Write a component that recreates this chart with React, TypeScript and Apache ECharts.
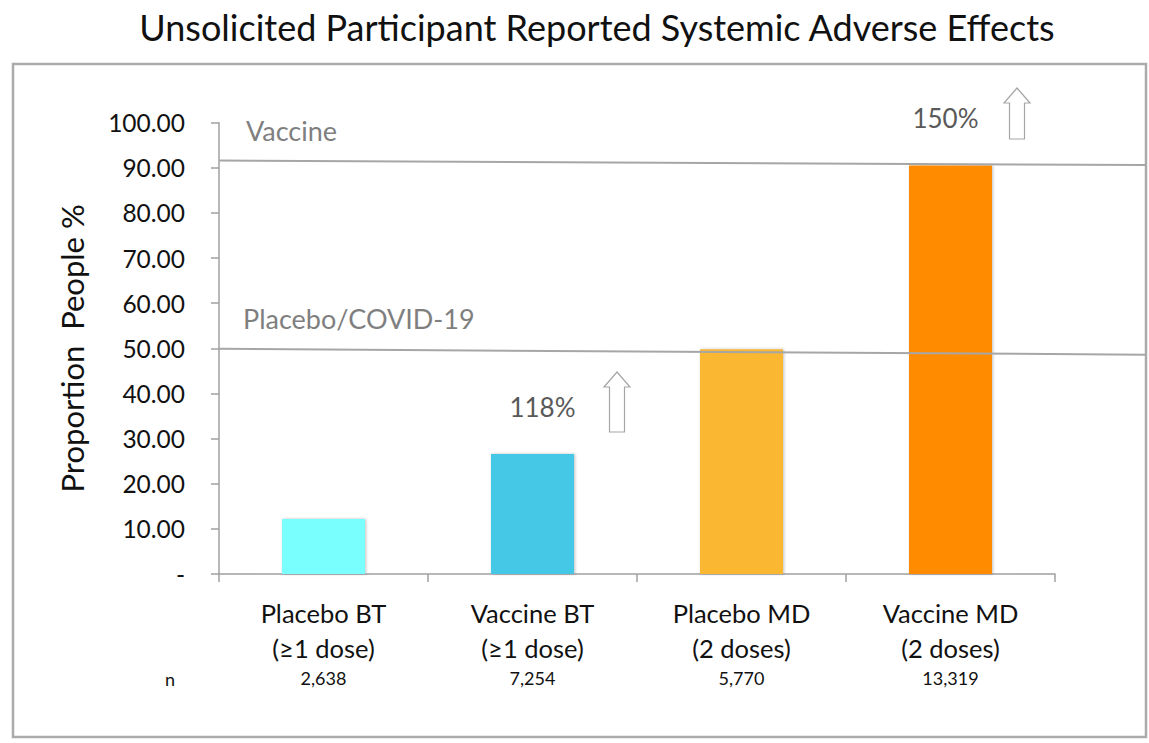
import React, { useEffect, useRef } from "react";
import * as echarts from "echarts";

const categories = ["Placebo BT\n(≥1 dose)", "Vaccine BT\n(≥1 dose)", "Placebo MD\n(2 doses)", "Vaccine MD\n(2 doses)"];
const values = [12.2, 26.6, 49.8, 90.5];
const barColors = ["#7AFFFF", "#44C8E6", "#F9B731", "#FF8C04"];
const nCounts = ["2,638", "7,254", "5,770", "13,319"];
const yTicks = [0, 10, 20, 30, 40, 50, 60, 70, 80, 90, 100];
// reference lines: [label, value at left, value at right]
const refLines = [
  { label: "Vaccine", left: 91.6, right: 90.6 },
  { label: "Placebo/COVID-19", left: 49.9, right: 48.6 },
];
const increases = ["118%", "150%"];

const FONT = "Lato, 'Open Sans', sans-serif";

export default function App() {
  const ref = useRef<HTMLDivElement>(null);
  useEffect(() => {
    document.body.style.margin = "0";
    if (!ref.current) return;
    const chart = echarts.init(ref.current, null, { renderer: "svg" });
    const gridLeft = 219;
    const gridTop = 122.7;
    const gridBottomY = 574;
    const gridRightX = 1055;
    chart.setOption({
      animation: false,
      backgroundColor: "#ffffff",
      grid: { left: gridLeft, top: gridTop, right: 1149 - gridRightX, bottom: 743 - gridBottomY },
      xAxis: {
        type: "category",
        data: categories,
        axisLine: { lineStyle: { color: "#a0a0a0", width: 1.5 } },
        axisTick: { show: true, length: 8, lineStyle: { color: "#a0a0a0", width: 1.5 } },
        axisLabel: {
          margin: 21,
          formatter: (v: string, i: number) => {
            const [a, b] = v.split("\n");
            return `{a|${a}}\n{a|${b}}\n{n|${nCounts[i]}}`;
          },
          rich: {
            a: { fontFamily: FONT, fontSize: 25.5, lineHeight: 35, color: "#111" },
            n: { fontFamily: FONT, fontSize: 18, lineHeight: 26, color: "#111" },
          },
        },
      },
      yAxis: {
        type: "value",
        min: yTicks[0],
        max: yTicks[yTicks.length - 1],
        interval: 10,
        name: "Proportion  People %",
        nameLocation: "middle",
        nameRotate: 90,
        nameGap: 132,
        nameTextStyle: { fontFamily: FONT, fontSize: 31, color: "#111" },
        splitLine: { show: false },
        axisLine: { show: true, lineStyle: { color: "#a0a0a0", width: 1.5 } },
        axisTick: { show: true, length: 8, lineStyle: { color: "#a0a0a0", width: 1.5 } },
        axisLabel: {
          margin: 34,
          fontFamily: FONT,
          fontSize: 24.5,
          color: "#111",
          formatter: (v: number) => (v === 0 ? "-" : v.toFixed(2)),
        },
      },
      series: [
        {
          type: "bar",
          barWidth: 83,
          data: values.map((v, i) => ({ value: v, itemStyle: { color: barColors[i] } })),
          itemStyle: { shadowColor: "rgba(0,0,0,0.25)", shadowBlur: 3, shadowOffsetX: 1, shadowOffsetY: 0 },
        },
      ],
    });

    const yPx = (v: number) => chart.convertToPixel({ yAxisIndex: 0 }, v) as number;
    const xPx = (i: number) => chart.convertToPixel({ xAxisIndex: 0 }, i) as number;

    const arrow = (cx: number, top: number, bottom: number) => {
      const headHalf = 13;
      const shaftHalf = 7.5;
      const headBase = top + 15;
      return {
        type: "polygon",
        shape: {
          points: [
            [cx, top],
            [cx + headHalf, headBase],
            [cx + shaftHalf, headBase],
            [cx + shaftHalf, bottom],
            [cx - shaftHalf, bottom],
            [cx - shaftHalf, headBase],
            [cx - headHalf, headBase],
          ],
        },
        style: { fill: "#ffffff", stroke: "#a6a6a6", lineWidth: 1.2 },
        z: 20,
      };
    };

    const graphics: any[] = [
      {
        type: "rect",
        shape: { x: 13, y: 64, width: 1133, height: 673 },
        style: { fill: "none", stroke: "#ababab", lineWidth: 2.5 },
        z: 1,
      },
      {
        type: "text",
        x: 597,
        y: 27,
        style: {
          text: "Unsolicited Participant Reported Systemic Adverse Effects",
          fontFamily: FONT,
          fontSize: 36,
          fill: "#111",
          align: "center",
          verticalAlign: "middle",
        },
      },
      {
        type: "text",
        x: 170,
        y: 679,
        style: { text: "n", fontFamily: FONT, fontSize: 18, fill: "#111", align: "center", verticalAlign: "middle" },
      },
    ];
    refLines.forEach((r, i) => {
      graphics.push({
        type: "line",
        shape: { x1: gridLeft, y1: yPx(r.left), x2: 1146, y2: yPx(r.right) },
        style: { stroke: "#a6a6a6", lineWidth: 2 },
        z: 15,
      });
      graphics.push({
        type: "text",
        x: i === 0 ? 246 : 243,
        y: i === 0 ? 130 : 318,
        style: { text: r.label, fontFamily: FONT, fontSize: 27, fill: "#7f7f7f", align: "left", verticalAlign: "middle" },
      });
    });
    // increase annotations above Vaccine bars
    graphics.push({
      type: "text",
      x: xPx(1) + 10,
      y: 407,
      style: { text: increases[0], fontFamily: FONT, fontSize: 26, fill: "#595959", align: "center", verticalAlign: "middle" },
    });
    graphics.push(arrow(617, 372, 432));
    graphics.push({
      type: "text",
      x: xPx(3) - 5,
      y: 118,
      style: { text: increases[1], fontFamily: FONT, fontSize: 26, fill: "#595959", align: "center", verticalAlign: "middle" },
    });
    graphics.push(arrow(1017, 88, 139));
    chart.setOption({ graphic: graphics });

    return () => chart.dispose();
  }, []);
  return <div ref={ref} style={{ width: 1149, height: 743 }} />;
}
